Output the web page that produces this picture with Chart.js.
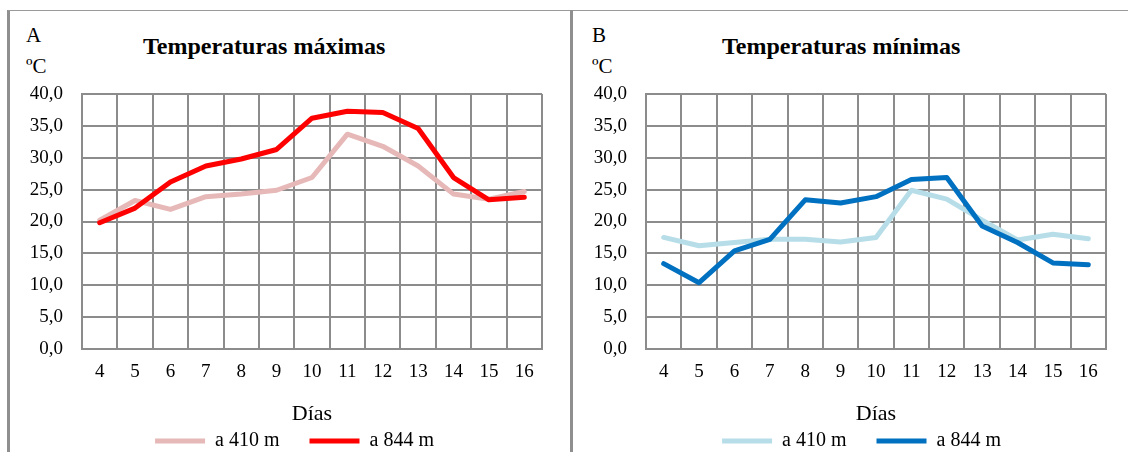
<!DOCTYPE html>
<html lang="es">
<head>
    <meta charset="UTF-8">
    <title>Temperaturas máximas y mínimas</title>
    <script src="https://cdn.jsdelivr.net/npm/chart.js"></script>
    <style>
        body { margin: 0; width: 1128px; height: 452px; overflow: hidden; background: #fff; position: relative; font-family: 'Liberation Serif', 'Times New Roman', serif; }
        .frame { position: absolute; background: #8f8f8f; }
        .txt { position: absolute; line-height: 1; color: #000; white-space: nowrap; }
        .small { font-size: 21px; }
        .title { font-size: 24px; font-weight: bold; }
        canvas { position: absolute; top: 0; }
    </style>
</head>
<body>
    <!-- panel frames -->
    <div class="frame" style="left:7px; top:10px; width:3px; height:442px;"></div>
    <div class="frame" style="left:8px; top:10px; width:1120px; height:1px; background:#9a9a9a;"></div>
    <div class="frame" style="left:570px; top:10px; width:3px; height:442px;"></div>

    <!-- panel A -->
    <div class="txt small" style="left:26px; top:25px;">A</div>
    <div class="txt small" style="left:26px; top:56px;">ºC</div>
    <div class="txt title" style="left:143px; top:34px;">Temperaturas máximas</div>
    <canvas id="chartMax" width="560" height="470" style="left:10px;"></canvas>

    <!-- panel B -->
    <div class="txt small" style="left:592px; top:25px;">B</div>
    <div class="txt small" style="left:592px; top:56px;">ºC</div>
    <div class="txt title" style="left:722px; top:34px;">Temperaturas mínimas</div>
    <canvas id="chartMin" width="554" height="470" style="left:574px;"></canvas>

    <script>
        // Days on the x axis
        const days = ['4', '5', '6', '7', '8', '9', '10', '11', '12', '13', '14', '15', '16'];

        // Maximum temperatures (ºC)
        const max410 = [20.2, 23.3, 21.9, 23.9, 24.3, 24.9, 26.9, 33.7, 31.8, 28.7, 24.3, 23.5, 24.7];
        const max844 = [19.8, 22.1, 26.2, 28.7, 29.8, 31.3, 36.2, 37.3, 37.1, 34.6, 26.9, 23.4, 23.8];

        // Minimum temperatures (ºC)
        const min410 = [17.5, 16.2, 16.7, 17.2, 17.2, 16.8, 17.5, 24.9, 23.5, 20.2, 17.1, 18.0, 17.3];
        const min844 = [13.4, 10.4, 15.4, 17.2, 23.4, 22.9, 23.9, 26.6, 26.9, 19.3, 16.7, 13.5, 13.2];

        const seriesLabels = ['a 410 m', 'a 844 m'];
        const yMin = 0, yMax = 40, yStep = 5;

        const gridColor = '#8c8c8c';
        const serif = 'Liberation Serif';

        // the legend in the original sits a bit right of the panel centre
        const legendNudge = {
            id: 'legendNudge',
            afterLayout(chart, args, opts) {
                if (!chart.legend) return;
                chart.legend.left += opts.shift || 0;
                chart.legend.right += opts.shift || 0;
            }
        };

        function lineDataset(label, data, color, order) {
            return {
                label: label,
                data: data,
                borderColor: color,
                backgroundColor: color,
                borderWidth: 5,
                borderJoinStyle: 'round',
                borderCapStyle: 'round',
                pointRadius: 0,
                tension: 0,
                order: order
            };
        }

        function makeChart(id, low, high, lowColor, highColor, padRight, shift) {
            const ctx = document.getElementById(id).getContext('2d');
            return new Chart(ctx, {
                type: 'line',
                data: {
                    labels: days,
                    datasets: [
                        lineDataset(seriesLabels[0], low, lowColor, 1),
                        lineDataset(seriesLabels[1], high, highColor, 0)
                    ]
                },
                plugins: [legendNudge],
                options: {
                    responsive: false,
                    animation: false,
                    layout: { padding: { top: 94, left: 10, right: padRight, bottom: 9 } },
                    plugins: {
                        tooltip: { enabled: false },
                        legendNudge: { shift: shift },
                        legend: {
                            position: 'bottom',
                            labels: {
                                usePointStyle: true,
                                pointStyle: 'line',
                                pointStyleWidth: 50,
                                padding: 30,
                                color: '#000',
                                font: { family: serif, size: 20 },
                                sort: (a, b) => a.datasetIndex - b.datasetIndex
                            }
                        }
                    },
                    scales: {
                        x: {
                            offset: true,
                            grid: { offset: true, color: gridColor, lineWidth: 2, drawTicks: false },
                            border: { color: gridColor, width: 2 },
                            ticks: { color: '#000', font: { family: serif, size: 19 }, padding: 12, maxRotation: 0, autoSkip: false },
                            title: {
                                display: true,
                                text: 'Días',
                                color: '#000',
                                font: { family: serif, size: 22 },
                                padding: { top: 0, bottom: -26 }
                            },
                            afterFit: scale => { scale.height = 52; }
                        },
                        y: {
                            min: yMin,
                            max: yMax,
                            grid: { color: gridColor, lineWidth: 2, drawTicks: false },
                            border: { color: gridColor, width: 2 },
                            ticks: {
                                stepSize: yStep,
                                color: '#000',
                                font: { family: serif, size: 19 },
                                padding: 19,
                                callback: v => v.toFixed(1).replace('.', ',')
                            },
                            afterFit: scale => { scale.width = 62; }
                        }
                    }
                }
            });
        }

        makeChart('chartMax', max410, max844, '#e6b9b8', '#ff0000', 28, 13.5);
        makeChart('chartMin', min410, min844, '#b7dee8', '#0070c0', 22, 16.5);
    </script>
</body>
</html>
